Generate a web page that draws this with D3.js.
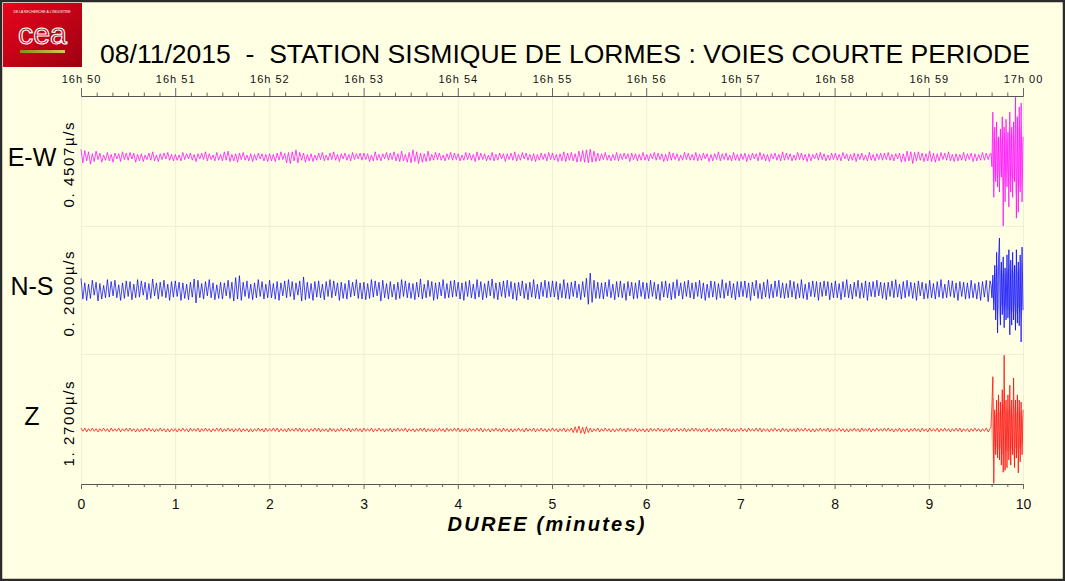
<!DOCTYPE html>
<html lang="fr">
<head>
<meta charset="UTF-8">
<title>Station sismique de Lormes</title>
<script src="https://d3js.org/d3.v7.min.js"></script>
<style>
  body { margin: 0; background: #ffffe4; }
  svg { display: block; }
  text { font-family: "Liberation Sans", Arial, sans-serif; }
</style>
</head>
<body>
<svg id="chart"></svg>
<script>
// --- data -------------------------------------------------------------
const minuteTicks = [0, 1, 2, 3, 4, 5, 6, 7, 8, 9, 10];
const clockLabels = ["16h 50", "16h 51", "16h 52", "16h 53", "16h 54", "16h 55",
                     "16h 56", "16h 57", "16h 58", "16h 59", "17h 00"];
const channelNames = ["E-W", "N-S", "Z"];
const scaleLabels = ["0. 4507\u00b5/s", "0. 2000\u00b5/s", "1. 2700\u00b5/s"];

// ground velocity, % of channel full scale, ~every 0.02 min from 0 to 9.65 min
const ewQuiet = [
  12,-9,10,-6,8,-11,5,-7,9,-4,6,-8,3,-5,7,-6,4,-8,6,-3,5,-7,8,-4,6,
  -5,7,-3,6,-8,4,-6,5,-7,3,-4,6,-5,8,-6,3,-7,5,-4,6,-3,7,-5,4,-6,
  4,-5,3,-6,7,-4,5,-3,6,-5,4,-7,5,-3,6,-4,8,-6,5,-4,3,-6,7,-5,4,
  -6,8,-5,9,-7,4,-6,5,-8,6,-4,7,-5,3,-6,5,-7,4,-5,6,-3,5,-6,4,-7,
  5,-6,4,-7,6,-5,8,-4,6,-9,7,-10,8,-6,11,-9,7,-5,6,-8,4,-6,5,-7,3,
  -5,6,-4,7,-6,3,-5,6,-4,8,-5,4,-7,5,-3,6,-5,4,-6,7,-4,5,-3,6,-5,
  6,-4,5,-7,3,-6,8,-5,4,-6,5,-3,7,-5,6,-4,8,-6,5,-7,9,-6,4,-8,7,
  -9,11,-7,8,-10,6,-8,5,-7,9,-6,4,-5,7,-4,6,-5,3,-6,5,-4,7,-5,6,-4,
  5,-6,3,-5,7,-4,6,-5,4,-7,8,-5,6,-4,5,-6,3,-5,7,-6,4,-5,6,-3,5,
  -7,5,-4,6,-5,8,-6,4,-5,7,-3,6,-5,4,-6,5,-7,4,-5,6,-4,5,-6,7,-4,
  6,-5,4,-7,5,-6,8,-7,6,-5,7,-6,5,-8,9,-7,10,-8,11,-9,12,-8,9,-7,6,
  -6,5,-4,7,-5,3,-6,4,-5,7,-6,5,-4,6,-3,5,-7,6,-4,5,-6,4,-5,7,-5,
  4,-6,5,-3,7,-5,6,-4,5,-7,4,-6,8,-5,6,-4,5,-6,3,-5,7,-4,6,-5,4,
  -5,7,-6,4,-5,6,-3,5,-7,4,-6,5,-4,8,-6,5,-4,6,-5,3,-6,7,-5,4,-6,
  5,-4,6,-7,4,-5,6,-3,5,-6,7,-4,5,-6,4,-7,5,-3,6,-5,4,-6,8,-5,6,
  -4,5,-6,3,-5,7,-4,6,-5,4,-7,5,-6,4,-3,6,-5,7,-4,5,-6,3,-5,6,-4,
  6,-5,4,-6,7,-3,5,-6,4,-5,6,-7,5,-4,6,-5,3,-6,7,-5,4,-6,5,-4,6,
  -5,6,-4,7,-5,4,-6,5,-3,6,-8,5,-7,9,-6,8,-10,7,-6,8,-5,6,-7,5,-6,
  9,-7,6,-8,5,-6,7,-4,6,-5,8,-6,4,-7,5,-6,4,-5,7,-6,5,-4,6,-7,5,
  -6,4,-5,7,-5,6,-4,5
];
const nsQuiet = [
  18,-14,11,-16,9,-13,15,-8,12,-17,10,-14,7,-12,16,-11,13,-9,15,-12,8,-16,11,-13,14,
  -10,13,-15,9,-12,16,-11,14,-8,12,-15,10,-13,17,-9,11,-14,12,-10,15,-12,9,-16,13,-11,
  14,-10,12,-16,11,-13,9,-15,12,-11,17,-20,15,-12,10,-14,13,-9,16,-12,11,-15,8,-13,12,
  -14,11,-9,15,-13,12,-17,19,-14,22,-16,12,-10,14,-13,9,-15,11,-12,16,-10,13,-14,9,-12,
  15,-12,10,-14,13,-16,11,-9,14,-12,16,-10,13,-15,11,-8,14,-17,20,-15,12,-13,10,-16,13,
  -11,14,-12,9,-15,13,-10,16,-12,14,-9,11,-16,12,-13,10,-14,15,-11,12,-9,16,-13,11,-14,
  12,-15,10,-13,16,-11,14,-9,12,-17,15,-12,10,-14,13,-11,9,-15,12,-13,16,-10,14,-12,11,
  -13,10,-15,12,-11,17,-14,9,-12,15,-10,13,-16,11,-14,12,-9,16,-13,10,-12,14,-11,15,-10,
  12,-14,11,-16,13,-10,15,-12,9,-14,16,-11,13,-15,10,-12,14,-9,17,-13,11,-15,12,-10,14,
  -12,15,-10,13,-14,11,-16,12,-9,14,-13,10,-15,12,-11,16,-13,9,-14,12,-10,15,-12,13,-11,
  14,-11,13,-15,10,-12,16,-13,11,-14,12,-10,14,-12,9,-15,13,-11,18,-22,26,-19,15,-13,12,
  -13,11,-14,12,-10,16,-12,9,-15,13,-11,14,-12,10,-16,13,-9,12,-14,11,-13,15,-10,12,-14,
  11,-13,15,-10,12,-14,9,-16,13,-11,14,-12,10,-15,12,-13,16,-9,11,-14,13,-10,15,-12,11,
  -14,12,-10,15,-13,11,-16,9,-12,14,-11,13,-15,10,-12,16,-13,11,-9,14,-12,10,-15,13,-11,
  13,-10,14,-12,11,-16,12,-9,15,-13,10,-14,12,-11,16,-13,9,-12,14,-10,15,-12,11,-13,10,
  -12,15,-11,13,-14,10,-12,16,-13,9,-15,12,-10,14,-11,13,-16,12,-10,14,-9,13,-15,11,-12,
  14,-12,10,-15,13,-11,16,-12,9,-14,12,-10,15,-13,11,-12,14,-16,12,-10,13,-11,15,-9,12,
  -13,11,-15,12,-10,14,-12,16,-11,9,-14,13,-12,15,-10,12,-13,11,-16,14,-9,12,-14,10,-13,
  15,-12,10,-14,13,-11,16,-13,9,-12,15,-10,14,-12,11,-16,13,-10,12,-14,11,-13,15,-12,10,
  -14,12,-16,13,-11,15,-18,14
];
const zQuiet = [
  3,-2,3,-3,2,-2,3,-2,2,-3,2,-2,3,-2,2,-3,3,-2,2,-2,3,-3,2,-2,3,
  -2,3,-2,2,-3,2,-3,2,-2,3,-2,3,-2,2,-3,2,-2,3,-2,2,-3,2,-3,2,-2,
  2,-3,2,-2,3,-2,2,-3,3,-2,2,-2,3,-3,2,-2,3,-2,2,-3,2,-2,3,-2,3,
  -3,2,-2,3,-2,2,-3,2,-2,3,-3,2,-2,2,-3,2,-3,2,-2,3,-2,2,-3,3,-2,
  2,-2,3,-2,3,-3,2,-2,2,-3,3,-2,2,-2,3,-2,3,-3,2,-2,2,-3,2,-2,3,
  -2,3,-3,2,-2,2,-3,3,-2,2,-3,2,-2,3,-2,2,-2,3,-3,2,-2,3,-2,2,-3,
  3,-2,2,-2,3,-3,2,-2,3,-2,2,-3,2,-2,3,-3,2,-2,3,-2,2,-2,3,-3,2,
  -2,2,-3,2,-2,3,-2,3,-3,2,-2,2,-3,2,-2,3,-2,2,-3,3,-2,2,-2,3,-2,
  3,-3,2,-2,2,-3,3,-2,2,-2,3,-2,3,-3,2,-2,2,-3,2,-2,3,-2,2,-3,3,
  -2,2,-3,2,-3,2,-2,3,-2,2,-3,3,-2,2,-2,3,-3,2,-2,3,-2,2,-3,2,-2,
  3,-2,2,-3,2,-2,3,-3,2,-2,3,-4,5,-4,6,-5,4,-6,5,-4,3,-3,2,-2,3,
  -3,2,-2,3,-2,2,-3,2,-3,2,-2,3,-2,2,-3,3,-2,2,-2,3,-3,2,-2,2,-3,
  2,-3,3,-2,2,-2,3,-2,2,-3,2,-2,3,-3,2,-2,3,-2,2,-2,3,-3,2,-2,3,
  -2,3,-2,2,-3,2,-2,3,-3,2,-2,2,-3,2,-2,3,-2,3,-2,2,-3,2,-3,2,-2,
  3,-2,2,-3,3,-2,2,-2,3,-2,3,-3,2,-2,2,-3,2,-2,3,-2,2,-3,3,-2,2,
  -3,2,-2,2,-3,3,-2,2,-2,3,-2,2,-3,2,-3,2,-2,3,-2,2,-2,3,-3,2,-2,
  2,-2,3,-2,2,-3,2,-3,2,-2,3,-2,2,-3,3,-2,2,-2,3,-3,2,-2,3,-2,2,
  -2,3,-2,3,-2,2,-3,2,-2,3,-3,2,-2,2,-3,2,-2,3,-2,2,-3,3,-2,2,-3,
  3,-2,2,-2,3,-3,2,-2,3,-2,2,-3,2,-2,3,-2,3,-3,2,-2,2,-3,2,-2,3,
  -2,2,-3,2,-2,3,-3,2
];
// signed samples (% of full scale) every 0.01 min, 9.66 -> 10.00 min
const ewBurst = [5,-15,69,-62,46,-38,54,-46,31,-54,43,-31,62,-106,46,-69,58,-46,
                 38,-77,69,-54,46,-62,54,-38,92,-94,62,-85,77,-54,83,-69,31];
const nsBurst = [8,-12,23,-31,38,-46,58,-66,46,80,-54,43,-38,51,-58,34,-46,54,
                 -43,62,-69,46,-54,58,-46,38,-62,62,-51,43,-55,54,-80,66,-31];
const zBurst = [5,38,82,-82,31,-38,46,-43,54,-46,43,-54,62,-65,115,-62,46,-58,
                54,-46,69,-54,46,-38,80,-58,46,-43,54,-66,46,-49,43,-38,31];

const quietData = [ewQuiet, nsQuiet, zQuiet];
const burstData = [ewBurst, nsBurst, zBurst];
const traceColors = ["#ff00ff", "#0000ff", "#ff0000"];

// --- layout -----------------------------------------------------------
const width = 1065, height = 581;
const plotTop = 96, plotBottom = 484;
const baselines = [157, 290, 430];
const halfBand = 65;

const svg = d3.select("#chart").attr("width", width).attr("height", height);

svg.append("rect").attr("width", width).attr("height", height).attr("fill", "#ffffe4");

const x = d3.scaleLinear().domain([0, 10]).range([81, 1023]);

// faint grid
const grid = svg.append("g").attr("stroke", "#efefd6").attr("stroke-width", 1);
grid.selectAll("line.v").data(minuteTicks).join("line")
  .attr("x1", d => x(d) + 0.5).attr("x2", d => x(d) + 0.5)
  .attr("y1", plotTop).attr("y2", plotBottom);
grid.selectAll("line.h").data([226, 354]).join("line")
  .attr("x1", x(0)).attr("x2", x(10))
  .attr("y1", d => d + 0.5).attr("y2", d => d + 0.5);

// axes
const minorTicks = d3.range(0, 60).map(i => i / 6).filter(v => v % 1 !== 0);

function styleAxis(g) {
  g.select(".domain").attr("stroke", "#555");
  g.selectAll(".tick line").attr("stroke", "#666");
  g.selectAll("text").attr("fill", "#111").attr("font-family", "Liberation Sans, Arial, sans-serif");
}

svg.append("g").attr("transform", `translate(0,${plotTop})`)
  .call(d3.axisTop(x).tickValues(minorTicks).tickSize(3.5).tickSizeOuter(0).tickFormat(""))
  .call(styleAxis);
svg.append("g").attr("transform", `translate(0,${plotTop})`)
  .call(d3.axisTop(x).tickValues(minuteTicks).tickSize(8).tickSizeOuter(0).tickPadding(5)
    .tickFormat((d, i) => clockLabels[i]))
  .call(styleAxis)
  .call(g => g.selectAll("text").attr("font-size", 11).attr("letter-spacing", 1));

svg.append("g").attr("transform", `translate(0,${plotBottom})`)
  .call(d3.axisBottom(x).tickValues(minorTicks).tickSize(3).tickSizeOuter(0).tickFormat(""))
  .call(styleAxis);
svg.append("g").attr("transform", `translate(0,${plotBottom})`)
  .call(d3.axisBottom(x).tickValues(minuteTicks).tickSize(5).tickSizeOuter(0).tickPadding(10)
    .tickFormat(d3.format("d")))
  .call(styleAxis)
  .call(g => g.selectAll("text").attr("font-size", 14));

// traces
channelNames.forEach((name, c) => {
  const y = d3.scaleLinear().domain([-100, 100])
    .range([baselines[c] + halfBand, baselines[c] - halfBand]);
  const q = quietData[c];
  const pts = q.map((v, i) => ({ t: i * 9.65 / (q.length - 1), v }));
  const burst = burstData[c].map((v, j) => ({ t: 9.66 + j * 0.01, v }));

  // light band under the coda, as the dense record shades it
  svg.append("path").datum(burst)
    .attr("fill", traceColors[c])
    .attr("fill-opacity", 0.22)
    .attr("d", d3.area().x(d => x(d.t)).y0(d => y(-Math.abs(d.v) * 0.6)).y1(d => y(Math.abs(d.v) * 0.6)));

  svg.append("path").datum(pts.concat(burst))
    .attr("fill", "none")
    .attr("stroke", traceColors[c])
    .attr("stroke-width", 0.8)
    .attr("stroke-opacity", 0.9)
    .attr("d", d3.line().x(d => x(d.t)).y(d => y(d.v)));

  svg.append("text")
    .attr("x", 32).attr("y", [166, 295, 425][c])
    .attr("text-anchor", "middle")
    .attr("font-size", 25)
    .attr("fill", "#000")
    .text(name);

  svg.append("text")
    .attr("transform", `translate(74,${[165, 294, 424][c]}) rotate(-90)`)
    .attr("text-anchor", "middle")
    .attr("font-family", "Liberation Serif, DejaVu Serif, serif")
    .attr("font-size", 15)
    .attr("textLength", 85)
    .attr("lengthAdjust", "spacing")
    .attr("fill", "#000")
    .text(scaleLabels[c]);
});

// title + x label
svg.append("text")
  .attr("x", 100).attr("y", 63)
  .attr("font-size", 25)
  .attr("textLength", 930)
  .attr("lengthAdjust", "spacingAndGlyphs")
  .attr("fill", "#000")
  .style("white-space", "pre")
  .text("08/11/2015  -  STATION SISMIQUE DE LORMES : VOIES COURTE PERIODE");

svg.append("text")
  .attr("x", 546).attr("y", 531)
  .attr("text-anchor", "middle")
  .attr("font-family", "Liberation Mono, DejaVu Sans Mono, monospace")
  .attr("font-weight", "bold")
  .attr("font-style", "italic")
  .attr("font-size", 20)
  .attr("textLength", 197)
  .attr("fill", "#000")
  .style("white-space", "pre")
  .text("DUREE (minutes)");

// logo
const defs = svg.append("defs");
const lg = defs.append("linearGradient").attr("id", "ceaRed")
  .attr("x1", 0).attr("y1", 0).attr("x2", 1).attr("y2", 1);
lg.append("stop").attr("offset", 0).attr("stop-color", "#e8051c");
lg.append("stop").attr("offset", 1).attr("stop-color", "#9e0012");
const gg = defs.append("linearGradient").attr("id", "ceaGold");
gg.append("stop").attr("offset", 0).attr("stop-color", "#8c8a1e");
gg.append("stop").attr("offset", 1).attr("stop-color", "#d8c64a");

const logo = svg.append("g");
logo.append("rect").attr("x", 3).attr("y", 3).attr("width", 79).attr("height", 64).attr("fill", "url(#ceaRed)");
logo.append("text").attr("x", 42).attr("y", 13).attr("text-anchor", "middle")
  .attr("font-size", 3.4).attr("fill", "#fff").text("DE LA RECHERCHE \u00c0 L'INDUSTRIE");
logo.append("text").attr("x", 18).attr("y", 44)
  .attr("font-size", 29).attr("textLength", 49).attr("lengthAdjust", "spacingAndGlyphs")
  .attr("fill", "none").attr("stroke", "#fff").attr("stroke-width", 1.1)
  .text("cea");
logo.append("rect").attr("x", 20).attr("y", 50).attr("width", 45).attr("height", 3).attr("fill", "url(#ceaGold)");

// frame
svg.append("rect").attr("x", 1).attr("y", 1).attr("width", width - 2).attr("height", height - 2)
  .attr("fill", "none").attr("stroke", "#2b2b2b").attr("stroke-width", 2.5);
</script>
</body>
</html>
